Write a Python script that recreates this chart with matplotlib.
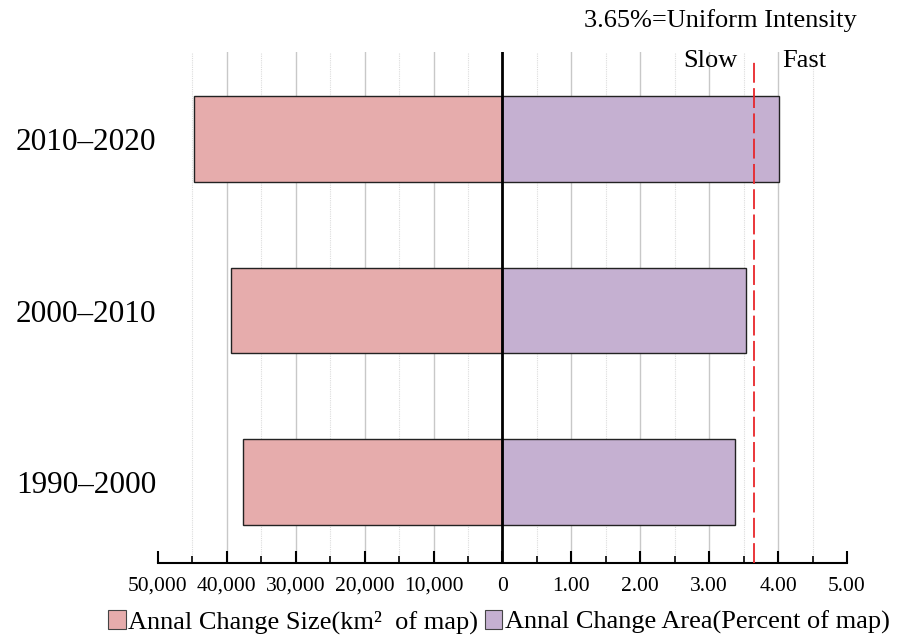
import matplotlib
matplotlib.use("Agg")
import matplotlib.pyplot as plt
from matplotlib.patches import Patch
from matplotlib.ticker import MultipleLocator, FixedLocator

plt.rcParams['font.family'] = ['Liberation Serif', 'DejaVu Serif']

periods = ["1990–2000", "2000–2010", "2010–2020"]
change_size_km2 = [37700, 39400, 44780]        # left side
change_area_pct = [3.38, 3.54, 4.01]           # right side
uniform_intensity = 3.65
left_tick_labels = ["50,000", "40,000", "30,000", "20,000", "10,000"]
right_tick_labels = ["0", "1.00", "2.00", "3.00", "4.00", "5.00"]

pink = "#E6ACAC"
purple = "#C5B0D1"

fig = plt.figure(figsize=(9.03, 6.37), dpi=100)
ax = fig.add_axes([158/903, 1-563/637, (847-158)/903, (563-52)/637])

ypos = list(range(len(periods)))
left_vals = [-v / 10000 for v in change_size_km2]
ax.barh(ypos, left_vals, height=0.5, color=pink, edgecolor="#222222", linewidth=1.0, zorder=3)
ax.barh(ypos, change_area_pct, height=0.5, color=purple, edgecolor="#222222", linewidth=1.0, zorder=3)

ax.set_xlim(-5, 5)
ax.set_ylim(-0.472, 2.508)

# grid
for x in range(-4, 5):
    if x == 0:
        continue
    ax.axvline(x, color="#c8c8c8", linewidth=1.0, zorder=1)
for k in range(-9, 10, 2):
    ax.axvline(k / 2, color="#dcdcdc", linewidth=0.8, linestyle=(0, (1, 1)), zorder=1)
ax.axvline(0, color="black", linewidth=2.0, zorder=4)

# uniform intensity line
ax.plot([uniform_intensity, uniform_intensity], [-0.472, 2.45], color="#E8262B",
        linewidth=1.3, dashes=(11, 3), zorder=4)

for s in ["left", "right", "top"]:
    ax.spines[s].set_visible(False)
ax.spines["bottom"].set_linewidth(1.5)

ax.xaxis.set_major_locator(FixedLocator(list(range(-5, 6))))
ax.xaxis.set_minor_locator(MultipleLocator(0.5))
ax.set_xticklabels(left_tick_labels + right_tick_labels, fontsize=15.5)
ax.tick_params(axis="x", which="major", direction="in", length=9, width=1.5, pad=10)
ax.tick_params(axis="x", which="minor", direction="in", length=5, width=1.2)
ax.set_yticks(ypos)
ax.set_yticklabels(periods, fontsize=22.5)
ax.tick_params(axis="y", length=0, pad=1)

fig.text(720/903, 1-21/637, "3.65%=Uniform Intensity", fontsize=19, ha="center", va="center")
fig.text(710/903, 1-61/637, "Slow", fontsize=19, ha="center", va="center")
fig.text(804/903, 1-61/637, "Fast", fontsize=19, ha="center", va="center")

handles = [Patch(facecolor=pink, edgecolor="#444444", linewidth=0.8),
           Patch(facecolor=purple, edgecolor="#444444", linewidth=0.8)]
fig.legend(handles, ["Annal Change Size(km²  of map)", "Annal Change Area(Percent of map)"],
           loc="center", bbox_to_anchor=(499/903, 1-622/637), ncol=2, frameon=False,
           fontsize=19, handlelength=0.65, handleheight=0.7, handletextpad=0.1,
           columnspacing=0.25, borderpad=0)

fig.savefig("out.png", dpi=100)
